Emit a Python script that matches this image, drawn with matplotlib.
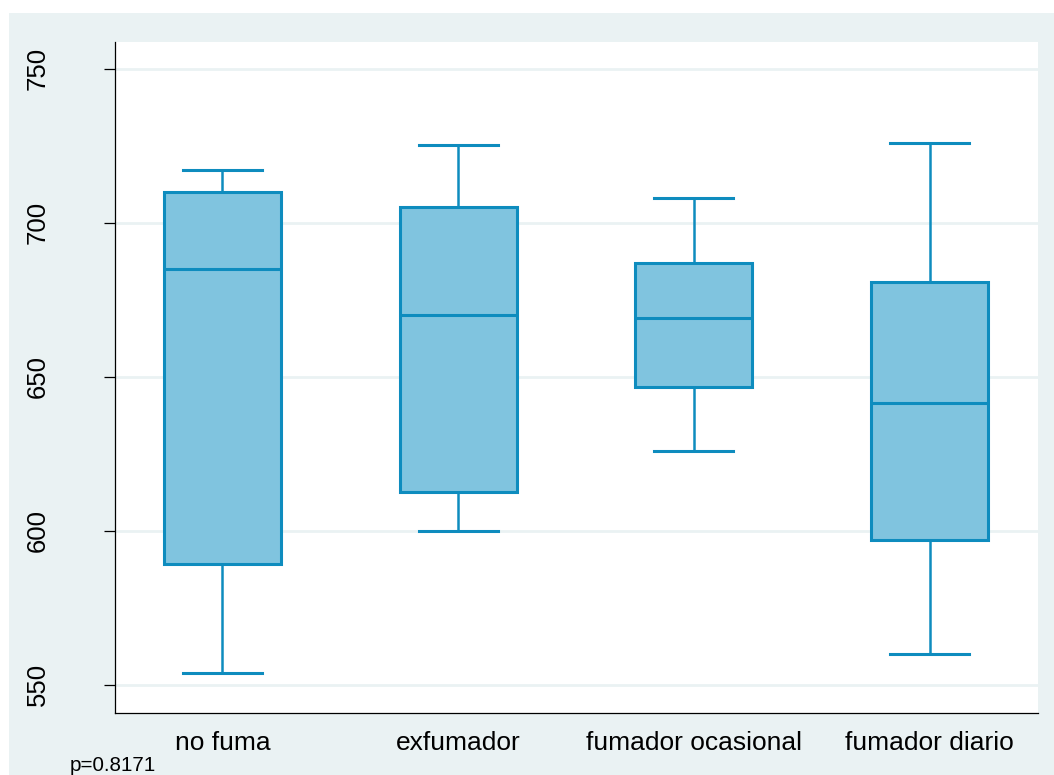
import matplotlib.pyplot as plt
from matplotlib.patches import Rectangle

plt.rcParams['font.family'] = ['Liberation Sans', 'DejaVu Sans']

groups = ["no fuma", "exfumador", "fumador ocasional", "fumador diario"]
whisker_low = [553.7, 599.9, 625.9, 560.0]
q1 = [589.1, 612.7, 646.7, 597.0]
median = [685.0, 669.9, 669.1, 641.4]
q3 = [710.0, 705.0, 686.9, 680.8]
whisker_high = [717.0, 725.1, 708.1, 725.9]
yticks = [550, 600, 650, 700, 750]
p_text = "p=0.8171"

fill_col = '#80C4DF'
edge_col = '#0E8CBE'
bg_col = '#EAF2F3'

fig = plt.figure(figsize=(10.54, 7.75), dpi=100)
fig.patch.set_facecolor('white')
# outer graph region
fig.patches.append(Rectangle((9 / 1054, 0), 1, 1 - 13 / 775, transform=fig.transFigure,
                             facecolor=bg_col, edgecolor='none', zorder=-10))

ax = fig.add_axes([115 / 1054, (775 - 713) / 775, 923 / 1054, (713 - 42) / 775])
ax.set_facecolor('white')

stats = []
for i, g in enumerate(groups):
    stats.append(dict(label=g, whislo=whisker_low[i], q1=q1[i], med=median[i],
                      q3=q3[i], whishi=whisker_high[i], fliers=[]))

ax.bxp(stats, positions=[1, 2, 3, 4], widths=0.497, patch_artist=True,
       showfliers=False, capwidths=0.335,
       boxprops=dict(facecolor=fill_col, edgecolor=edge_col, linewidth=2.2),
       medianprops=dict(color=edge_col, linewidth=2.2),
       whiskerprops=dict(color=edge_col, linewidth=1.8),
       capprops=dict(color=edge_col, linewidth=2.2))

ax.set_xlim(0.544, 4.46)
ax.set_ylim(540.8, 758.7)
ax.set_yticks(yticks)
ax.set_yticklabels([str(v) for v in yticks], rotation=90, va='center', fontsize=18.5)
ax.yaxis.grid(True, color=bg_col, linewidth=2)
ax.set_axisbelow(True)

ax.tick_params(axis='y', length=8, width=0.9, color='black', pad=39)
ax.tick_params(axis='x', length=0, pad=13, labelsize=19)

for s in ['top', 'right']:
    ax.spines[s].set_visible(False)
for s in ['left', 'bottom']:
    ax.spines[s].set_color('black')
    ax.spines[s].set_linewidth(0.9)

fig.text(70 / 1054, 1 - 771 / 775, p_text, fontsize=14.9, ha='left', va='baseline')

fig.savefig('out.png', dpi=100, facecolor=fig.get_facecolor())
